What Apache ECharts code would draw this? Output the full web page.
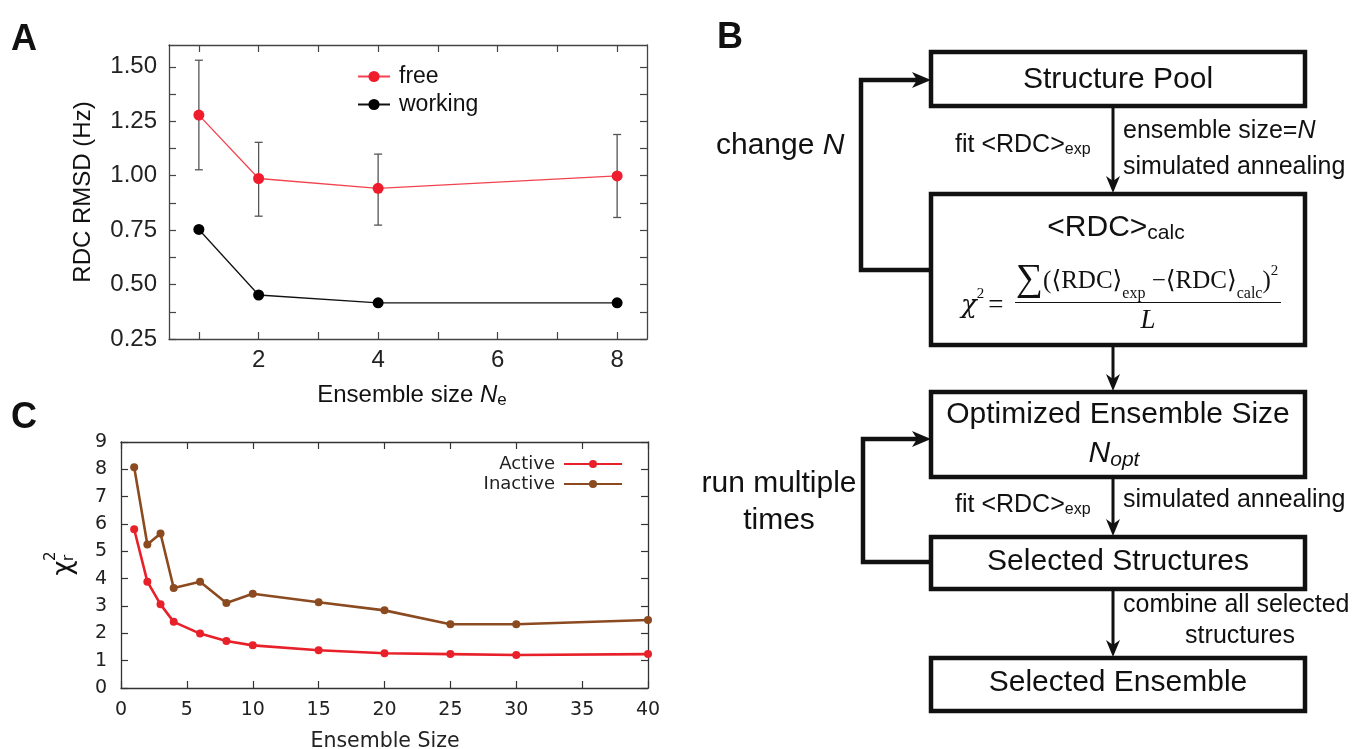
<!DOCTYPE html>
<html><head><meta charset="utf-8">
<script src="https://cdn.jsdelivr.net/npm/echarts@6/dist/echarts.min.js"></script>
<style>html,body{margin:0;padding:0;background:#fff}#main{width:1356px;height:749px}</style>
</head><body><div id="main"></div>
<script>
// ---------- Panel A data ----------
const sizeA = [1, 2, 4, 8];
const freeRmsd = [1.278, 0.987, 0.942, 0.999];
const freeErrLow = [1.027, 0.814, 0.773, 0.808];
const freeErrHigh = [1.530, 1.153, 1.099, 1.189];
const workingRmsd = [0.753, 0.452, 0.416, 0.416];
const yTicksA = [0.25, 0.5, 0.75, 1.0, 1.25, 1.5];
const yMinorTicksA = [0.25, 0.375, 0.5, 0.625, 0.75, 0.875, 1.0, 1.125, 1.25, 1.375, 1.5];
const xTicksA = [2, 4, 6, 8];
const xMinorTicksA = [1, 2, 3, 4, 5, 6, 7, 8];
// ---------- Panel C data ----------
const sizeC = [1, 2, 3, 4, 6, 8, 10, 15, 20, 25, 30, 40];
const activeChi = [5.81, 3.89, 3.06, 2.42, 1.99, 1.72, 1.56, 1.38, 1.27, 1.24, 1.21, 1.24];
const inactiveChi = [8.08, 5.25, 5.65, 3.66, 3.89, 3.11, 3.45, 3.14, 2.84, 2.33, 2.33, 2.49];
// ---------- Panel B labels ----------
const boxTitles = ['Structure Pool', 'Optimized Ensemble Size', 'Selected Structures', 'Selected Ensemble'];

const SANS = '"Liberation Sans", Arial, Helvetica, sans-serif';
const DJ = '"DejaVu Sans", Verdana, sans-serif';
const SERIF = '"Liberation Serif", "DejaVu Serif", "Times New Roman", serif';
const GREEK = '"DejaVu Serif", "Liberation Serif", serif';
const INK = '#111';

const ctx = document.createElement('canvas').getContext('2d');
function measure(t, size, family, style, weight) {
  ctx.font = (style || 'normal') + ' ' + (weight || 'normal') + ' ' + size + 'px ' + family;
  return ctx.measureText(t).width;
}
function runText(x, y, parts, anchor) {
  const widths = parts.map(p => measure(p.t, p.size, p.family || SANS, p.style, p.weight));
  const total = widths.reduce((a, b) => a + b, 0) + parts.reduce((a, p) => a + (p.gap || 0), 0);
  let cx = anchor === 'center' ? x - total / 2 : anchor === 'right' ? x - total : x;
  const els = [];
  parts.forEach((p, i) => {
    els.push({
      type: 'text', x: cx, y: y + (p.dy || 0), z: 100,
      style: {
        text: p.t, fontSize: p.size, fontFamily: p.family || SANS,
        fontStyle: p.style || 'normal', fontWeight: p.weight || 'normal',
        fill: p.color || INK, align: 'left', verticalAlign: 'middle'
      }
    });
    cx += widths[i] + (p.gap || 0);
  });
  return els;
}

const BL = 931, BW = 374;
function box(y, h) {
  return { type: 'rect', z: 50, shape: { x: BL, y: y, width: BW, height: h },
    style: { fill: '#fff', stroke: INK, lineWidth: 4.5 } };
}
function downArrow(x, y1, y2) {
  return [
    { type: 'line', z: 40, shape: { x1: x, y1: y1, x2: x, y2: y2 - 10 }, style: { stroke: INK, lineWidth: 3 } },
    { type: 'polygon', z: 60, shape: { points: [[x, y2], [x - 7, y2 - 17], [x, y2 - 12], [x + 7, y2 - 17]] }, style: { fill: INK } }
  ];
}
function loop(xl, yLow, yHigh) {
  return [
    { type: 'polyline', z: 40, shape: { points: [[BL, yLow], [xl, yLow], [xl, yHigh], [BL - 10, yHigh]] },
      style: { stroke: INK, lineWidth: 4.5, fill: null, lineJoin: 'miter' } },
    { type: 'polygon', z: 60, shape: { points: [[BL, yHigh], [BL - 19, yHigh - 8], [BL - 14, yHigh], [BL - 19, yHigh + 8]] }, style: { fill: INK } }
  ];
}

const cxBox = BL + BW / 2;
let G = [];
// panel letters
G.push({ type: 'text', x: 11, y: 40, style: { text: 'A', fontSize: 36, fontWeight: 'bold', fontFamily: SANS, fill: INK, verticalAlign: 'middle' } });
G.push({ type: 'text', x: 717, y: 38, style: { text: 'B', fontSize: 36, fontWeight: 'bold', fontFamily: SANS, fill: INK, verticalAlign: 'middle' } });
G.push({ type: 'text', x: 11, y: 418, style: { text: 'C', fontSize: 36, fontWeight: 'bold', fontFamily: SANS, fill: INK, verticalAlign: 'middle' } });

// flowchart
G.push(...loop(861, 270, 80));
G.push(...loop(863, 562, 439));
G.push(...downArrow(1113, 107, 193));
G.push(...downArrow(1113, 346, 391));
G.push(...downArrow(1113, 478, 536));
G.push(...downArrow(1113, 590, 657));
G.push(box(52, 54), box(194, 151), box(392, 85), box(537, 52), box(658, 53));

G.push(...runText(cxBox, 80, [{ t: boxTitles[0], size: 30 }], 'center'));
G.push(...runText(cxBox - 2, 228, [{ t: '<RDC>', size: 30 }, { t: 'calc', size: 21, dy: 5 }], 'center'));
// formula
G.push(...runText(961, 306, [
  { t: 'χ', size: 26, family: GREEK, style: 'italic' },
  { t: '2', size: 15, family: SERIF, dy: -12, gap: 4 },
  { t: '=', size: 27, family: SERIF }
]));
G.push({ type: 'line', z: 100, shape: { x1: 1015, y1: 302.5, x2: 1281, y2: 302.5 }, style: { stroke: INK, lineWidth: 1.2 } });
G.push(...runText(1016, 281, [
  { t: '∑', size: 38, family: SERIF, dy: -1 },
  { t: '(⟨RDC⟩', size: 25, family: SERIF },
  { t: 'exp', size: 16, family: SERIF, dy: 13 },
  { t: ' −⟨RDC⟩', size: 25, family: SERIF },
  { t: 'calc', size: 16, family: SERIF, dy: 13 },
  { t: ')', size: 25, family: SERIF },
  { t: '2', size: 15, family: SERIF, dy: -10 }
]));
G.push(...runText(1148, 321, [{ t: 'L', size: 27, family: SERIF, style: 'italic' }], 'center'));

G.push(...runText(cxBox, 415, [{ t: boxTitles[1], size: 30 }], 'center'));
G.push(...runText(1114, 454, [{ t: 'N', size: 30, style: 'italic' }, { t: 'opt', size: 21, style: 'italic', dy: 6 }], 'center'));
G.push(...runText(cxBox, 562, [{ t: boxTitles[2], size: 30 }], 'center'));
G.push(...runText(cxBox, 683, [{ t: boxTitles[3], size: 30 }], 'center'));

// side texts
G.push(...runText(955, 145, [{ t: 'fit <RDC>', size: 25 }, { t: 'exp', size: 16, dy: 5 }]));
G.push(...runText(955, 505, [{ t: 'fit <RDC>', size: 25 }, { t: 'exp', size: 16, dy: 5 }]));
G.push(...runText(1123, 131, [{ t: 'ensemble size=', size: 25 }, { t: 'N', size: 25, style: 'italic' }]));
G.push(...runText(1123, 167, [{ t: 'simulated annealing', size: 25 }]));
G.push(...runText(1123, 500, [{ t: 'simulated annealing', size: 25 }]));
G.push(...runText(1123, 605, [{ t: 'combine all selected', size: 25 }]));
G.push(...runText(1240, 636, [{ t: 'structures', size: 25 }], 'center'));
G.push(...runText(716, 146, [{ t: 'change ', size: 30 }, { t: 'N', size: 30, style: 'italic' }]));
G.push(...runText(779, 484, [{ t: 'run multiple', size: 30 }], 'center'));
G.push(...runText(779, 521, [{ t: 'times', size: 30 }], 'center'));

// axis titles drawn as text
G.push(...runText(412, 395, [{ t: 'Ensemble size ', size: 24 }, { t: 'N', size: 24, style: 'italic' }, { t: 'e', size: 17, dy: 5 }], 'center'));
G.push(...runText(385, 742, [{ t: 'Ensemble Size', size: 20.5, family: DJ, color: '#222' }], 'center'));
G.push({
  type: 'group', x: 64, y: 568, rotation: Math.PI / 2,
  children: [
    { type: 'text', x: 0, y: 0, style: { text: 'χ', fontSize: 26, fontFamily: DJ, fill: INK, align: 'center', verticalAlign: 'middle' } },
    { type: 'text', x: 7, y: -13, style: { text: '2', fontSize: 15, fontFamily: DJ, fill: INK, align: 'left', verticalAlign: 'middle' } },
    { type: 'text', x: 7, y: 5, style: { text: 'r', fontSize: 15, fontFamily: DJ, fill: INK, align: 'left', verticalAlign: 'middle' } }
  ]
});

const frameA = { show: true, onZero: false, lineStyle: { color: '#444', width: 1.3 } };
const frameC = { show: true, onZero: false, lineStyle: { color: '#333', width: 1.3 } };

const option = {
  backgroundColor: '#fff',
  animation: false,
  grid: [
    { left: 169, top: 45, width: 478, height: 294, outerBoundsMode: 'none', containLabel: false },
    { left: 121, top: 442, width: 527, height: 246, outerBoundsMode: 'none', containLabel: false }
  ],
  legend: [
    {
      data: ['free', 'working'], orient: 'vertical', left: 352, top: 60, itemWidth: 32, itemHeight: 14, itemGap: 5,
      textStyle: { fontSize: 23, fontFamily: SANS, color: INK, padding: [0, 0, 0, 4] }
    },
    {
      data: ['Active', 'Inactive'], orient: 'vertical', align: 'right', right: 728, top: 450, itemWidth: 58, itemHeight: 10, itemGap: 2,
      textStyle: { fontSize: 18, fontFamily: DJ, color: '#222', padding: [0, 4, 0, 0] }
    }
  ],
  xAxis: [
    { gridIndex: 0, type: 'value', min: 0.5, max: 8.5, position: 'bottom', axisLine: frameA,
      axisTick: { show: true, inside: true, length: 7, customValues: xMinorTicksA, lineStyle: { color: '#444', width: 1.2 } },
      axisLabel: { customValues: xTicksA, fontSize: 24, fontFamily: SANS, color: '#222', margin: 9 }, splitLine: { show: false } },
    { gridIndex: 0, type: 'value', min: 0.5, max: 8.5, position: 'top', axisLine: frameA,
      axisTick: { show: true, inside: true, length: 7, customValues: xMinorTicksA, lineStyle: { color: '#444', width: 1.2 } },
      axisLabel: { show: false }, splitLine: { show: false } },
    { gridIndex: 1, type: 'value', min: 0, max: 40, interval: 5, position: 'bottom', axisLine: frameC,
      axisTick: { show: true, inside: true, length: 7, lineStyle: { color: '#333', width: 1.2 } },
      axisLabel: { fontSize: 19, fontFamily: DJ, color: '#222', margin: 13 }, splitLine: { show: false } },
    { gridIndex: 1, type: 'value', min: 0, max: 40, interval: 5, position: 'top', axisLine: frameC,
      axisTick: { show: true, inside: true, length: 7, lineStyle: { color: '#333', width: 1.2 } },
      axisLabel: { show: false }, splitLine: { show: false } }
  ],
  yAxis: [
    { gridIndex: 0, type: 'value', min: 0.25, max: 1.6, position: 'left', axisLine: frameA,
      axisTick: { show: true, inside: true, length: 7, customValues: yMinorTicksA, lineStyle: { color: '#444', width: 1.2 } },
      axisLabel: { customValues: yTicksA, fontSize: 24, fontFamily: SANS, color: '#222', margin: 12, formatter: v => v.toFixed(2) },
      splitLine: { show: false },
      name: 'RDC RMSD (Hz)', nameLocation: 'middle', nameRotate: 90, nameGap: 74,
      nameTextStyle: { fontSize: 24, fontFamily: SANS, color: INK } },
    { gridIndex: 0, type: 'value', min: 0.25, max: 1.6, position: 'right', axisLine: frameA,
      axisTick: { show: true, inside: true, length: 7, customValues: yMinorTicksA, lineStyle: { color: '#444', width: 1.2 } },
      axisLabel: { show: false }, splitLine: { show: false } },
    { gridIndex: 1, type: 'value', min: 0, max: 9, interval: 1, position: 'left', axisLine: frameC,
      axisTick: { show: true, inside: true, length: 7, lineStyle: { color: '#333', width: 1.2 } },
      axisLabel: { fontSize: 19, fontFamily: DJ, color: '#222', margin: 14 }, splitLine: { show: false } },
    { gridIndex: 1, type: 'value', min: 0, max: 9, interval: 1, position: 'right', axisLine: frameC,
      axisTick: { show: true, inside: true, length: 7, lineStyle: { color: '#333', width: 1.2 } },
      axisLabel: { show: false }, splitLine: { show: false } }
  ],
  series: [
    {
      type: 'custom', name: 'freeErr', xAxisIndex: 0, yAxisIndex: 0, z: 2,
      data: sizeA.map((x, i) => [x, freeErrLow[i], freeErrHigh[i]]),
      encode: { x: 0, y: [1, 2] },
      renderItem: (params, api) => {
        const x = api.value(0);
        const lo = api.coord([x, api.value(1)]);
        const hi = api.coord([x, api.value(2)]);
        const c = 4;
        const st = { stroke: '#555', lineWidth: 1.3 };
        return { type: 'group', children: [
          { type: 'line', shape: { x1: lo[0], y1: lo[1], x2: hi[0], y2: hi[1] }, style: st },
          { type: 'line', shape: { x1: lo[0] - c, y1: lo[1], x2: lo[0] + c, y2: lo[1] }, style: st },
          { type: 'line', shape: { x1: hi[0] - c, y1: hi[1], x2: hi[0] + c, y2: hi[1] }, style: st }
        ] };
      }
    },
    {
      type: 'line', name: 'free', xAxisIndex: 0, yAxisIndex: 0, z: 3,
      data: sizeA.map((x, i) => [x, freeRmsd[i]]),
      symbol: 'circle', symbolSize: 11, lineStyle: { color: '#f2434f', width: 1.3 },
      itemStyle: { color: '#ee1c2c' }
    },
    {
      type: 'line', name: 'working', xAxisIndex: 0, yAxisIndex: 0, z: 3,
      data: sizeA.map((x, i) => [x, workingRmsd[i]]),
      symbol: 'circle', symbolSize: 11, lineStyle: { color: '#111', width: 1.3 },
      itemStyle: { color: '#000' }
    },
    {
      type: 'line', name: 'Active', xAxisIndex: 2, yAxisIndex: 2, z: 3,
      data: sizeC.map((x, i) => [x, activeChi[i]]),
      symbol: 'circle', symbolSize: 8, lineStyle: { color: '#e8202a', width: 2.6 },
      itemStyle: { color: '#e8202a' }
    },
    {
      type: 'line', name: 'Inactive', xAxisIndex: 2, yAxisIndex: 2, z: 3,
      data: sizeC.map((x, i) => [x, inactiveChi[i]]),
      symbol: 'circle', symbolSize: 8, lineStyle: { color: '#8b4a1f', width: 2.6 },
      itemStyle: { color: '#8b4a1f' }
    }
  ],
  graphic: G
};

const chart = echarts.init(document.getElementById('main'), null, { renderer: 'canvas' });
chart.setOption(option);
</script>
</body></html>
